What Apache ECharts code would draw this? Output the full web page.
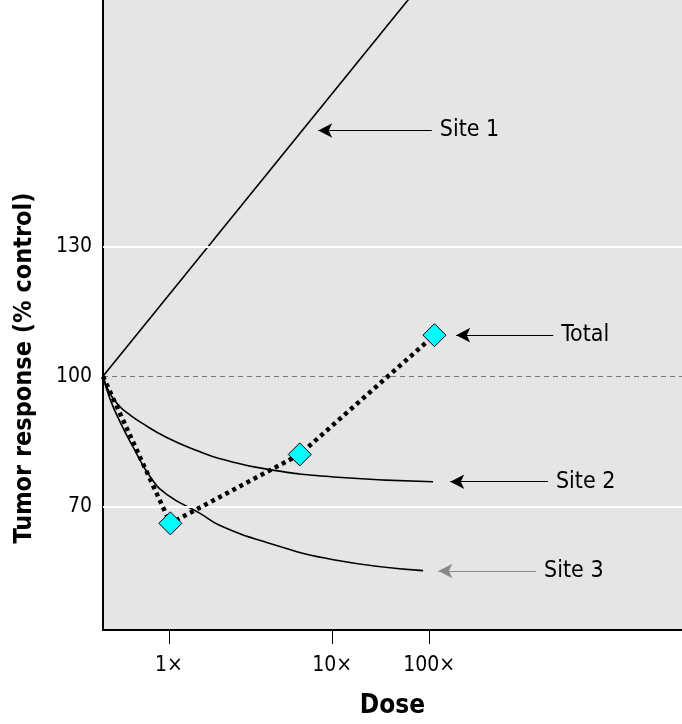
<!DOCTYPE html>
<html><head><meta charset="utf-8">
<script src="https://cdn.jsdelivr.net/npm/echarts@6/dist/echarts.min.js"></script>
<style>html,body{margin:0;padding:0;background:#fff}#c{width:682px;height:724px}</style>
</head><body><div id="c"></div>
<script>
// x in "dose position" units (1x = 1)
const tickPositions = [1, 3.47, 4.94];
const tickLabels = ['1×', '10×', '100×'];
const yTicks = [70, 100, 130];

const site1 = [[0, 100], [5.2, 197.7]];
const site2 = [[0, 100], [0.106, 96.0], [0.258, 93.0], [0.409, 91.1], [0.561, 89.5], [0.965, 85.9], [1.47, 82.6], [1.773, 81.0], [2.48, 78.6], [3.489, 76.8], [5.0, 75.7]];
const site3 = [[0, 100], [0.106, 94.8], [0.258, 89.5], [0.459, 83.6], [0.712, 76.9], [0.965, 72.8], [1.47, 68.4], [1.773, 65.6], [2.48, 61.7], [3.489, 57.7], [4.848, 55.2]];
const total = [[0, 100], [1.02, 66.1], [2.98, 82.0], [5.02, 109.5]];

const labels = [
  {name: 'Site 1', from: [4.98, 156.7], to: [3.26, 156.7], color: '#000'},
  {name: 'Total', from: [6.82, 109.5], to: [5.35, 109.5], color: '#000'},
  {name: 'Site 2', from: [6.74, 75.7], to: [5.26, 75.7], color: '#000'},
  {name: 'Site 3', from: [6.56, 55.1], to: [5.08, 55.1], color: '#888'}
];

const FONT = '"Liberation Sans Narrow","DejaVu Sans Condensed","Roboto",sans-serif';
const chart = echarts.init(document.getElementById('c'));
chart.setOption({
  animation: false,
  graphic: [{
    type: 'text', x: 24, y: 368, rotation: Math.PI / 2,
    style: {text: 'Tumor response (% control)', fontFamily: FONT, fontWeight: 'bold', fontSize: 25,
      fill: '#000', align: 'center', verticalAlign: 'middle'}
  }],
  grid: {left: 103, right: 0, top: 0, bottom: 92, show: true, backgroundColor: '#e5e5e5', borderWidth: 0},
  xAxis: {
    type: 'value', min: 0, max: 8.77,
    name: 'Dose', nameLocation: 'middle', nameGap: 63,
    nameTextStyle: {fontFamily: FONT, fontWeight: 'bold', fontSize: 26, color: '#000'},
    axisLine: {show: true, lineStyle: {color: '#000', width: 2}},
    axisTick: {show: true, length: 14, lineStyle: {color: '#000', width: 1}, customValues: tickPositions},
    axisLabel: {customValues: tickPositions, formatter: v => {
      const i = tickPositions.indexOf(v); return i >= 0 ? tickLabels[i] : '';
    }, fontFamily: FONT, fontSize: 21, color: '#000', margin: 25},
    splitLine: {show: false}
  },
  yAxis: {
    type: 'value', min: 41.5, max: 186.8,
    axisLine: {show: true, lineStyle: {color: '#000', width: 2}},
    axisTick: {show: false},
    axisLabel: {customValues: yTicks, fontFamily: FONT, fontSize: 21, color: '#000', margin: 11},
    splitLine: {show: false}
  },
  series: [
    {type: 'line', data: [], markLine: {silent: true, symbol: 'none', label: {show: false},
      data: [
        {yAxis: 130, lineStyle: {color: '#fff', width: 2, type: 'solid'}},
        {yAxis: 70, lineStyle: {color: '#fff', width: 2, type: 'solid'}},
        {yAxis: 100, lineStyle: {color: '#777', width: 1, type: [5, 4]}}
      ]}},
    {type: 'line', data: site1, symbol: 'none', lineStyle: {color: '#000', width: 1.6}},
    {type: 'line', data: site2, symbol: 'none', smooth: 0.5, lineStyle: {color: '#000', width: 1.6}},
    {type: 'line', data: site3, symbol: 'none', smooth: 0.5, lineStyle: {color: '#000', width: 1.6}},
    {type: 'line', data: total.map((p, i) => i === 0 ? {value: p, symbol: 'none'} : p),
      symbol: 'diamond', symbolSize: 23, showSymbol: true,
      lineStyle: {color: '#000', width: 4.5, type: [4, 4], cap: 'butt'},
      itemStyle: {color: '#00ffff', borderColor: '#000', borderWidth: 1}, z: 5},
    {type: 'line', data: [], markLine: {silent: true, symbol: ['none', 'arrow'], symbolSize: [11, 14],
      data: labels.map(l => [
        {coord: l.from, lineStyle: {color: l.color, width: 1.2, type: 'solid'},
         label: {show: true, position: 'start', formatter: l.name, fontFamily: FONT, fontSize: 23, color: '#000', distance: 8}},
        {coord: l.to, symbol: 'arrow', itemStyle: {color: '#000'}}
      ])}}
  ]
});
</script></body></html>
